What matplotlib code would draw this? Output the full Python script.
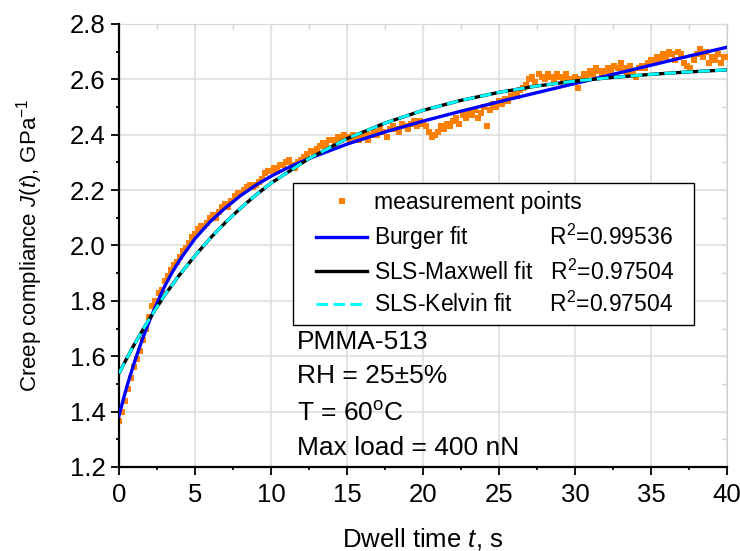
import numpy as np
import matplotlib.pyplot as plt
from matplotlib.patches import Rectangle
from matplotlib.ticker import MultipleLocator, FormatStrFormatter

plt.rcParams['font.family'] = ['Liberation Sans', 'DejaVu Sans']
plt.rcParams['mathtext.fontset'] = 'custom'
plt.rcParams['mathtext.rm'] = 'Liberation Sans'
plt.rcParams['mathtext.it'] = 'Liberation Sans:italic'

# measurement points, one every 0.2 s (5 per row = 1 s)
meas_J = [
    1.365, 1.40, 1.44, 1.48, 1.52,
    1.56, 1.59, 1.62, 1.66, 1.70,
    1.74, 1.78, 1.80, 1.83, 1.84,
    1.87, 1.89, 1.91, 1.93, 1.94,
    1.96, 1.98, 1.99, 2.01, 2.03,
    2.04, 2.06, 2.07, 2.07, 2.08,
    2.10, 2.11, 2.10, 2.12, 2.14,
    2.15, 2.14, 2.16, 2.18, 2.19,
    2.19, 2.20, 2.21, 2.22, 2.21,
    2.22, 2.23, 2.24, 2.26, 2.27,
    2.27, 2.28, 2.27, 2.29, 2.29,
    2.30, 2.31, 2.29, 2.28, 2.30,
    2.31, 2.32, 2.33, 2.34, 2.33,
    2.35, 2.36, 2.37, 2.36, 2.38,
    2.38, 2.37, 2.39, 2.38, 2.40,
    2.39, 2.38, 2.40, 2.39, 2.38,
    2.39, 2.40, 2.38, 2.40, 2.41,
    2.40, 2.42, 2.41, 2.39, 2.42,
    2.43, 2.42, 2.41, 2.44, 2.43,
    2.42, 2.44, 2.45, 2.43, 2.45,
    2.44, 2.43, 2.41, 2.39, 2.40,
    2.41, 2.43, 2.42, 2.44, 2.43,
    2.45, 2.46, 2.44, 2.47, 2.46,
    2.48, 2.47, 2.49, 2.46, 2.48,
    2.50, 2.43, 2.49, 2.51, 2.50,
    2.52, 2.51, 2.53, 2.52, 2.54,
    2.55, 2.54, 2.56, 2.57, 2.58,
    2.60, 2.61, 2.59, 2.62, 2.61,
    2.60, 2.62, 2.61, 2.60, 2.62,
    2.61, 2.60, 2.62, 2.60, 2.59,
    2.61, 2.57, 2.60, 2.62, 2.61,
    2.63, 2.62, 2.64, 2.63, 2.61,
    2.63, 2.64, 2.63, 2.65, 2.64,
    2.66, 2.64, 2.62, 2.65, 2.63,
    2.61, 2.64, 2.65, 2.64, 2.66,
    2.67, 2.66, 2.68, 2.67, 2.69,
    2.68, 2.70, 2.69, 2.67, 2.70,
    2.69, 2.66, 2.65, 2.64, 2.67,
    2.69, 2.71, 2.68, 2.70, 2.66,
    2.68, 2.67, 2.69, 2.66, 2.68,
    2.68]
meas_t = np.arange(len(meas_J)) * 0.2

# fitted curves
burger_t = [0, 0.25, 0.5, 0.75, 1, 1.5, 2, 2.5, 3, 3.5, 4, 5, 6, 7, 8, 9, 10, 11,
            12.5, 15, 17.5, 20, 22.5, 25, 27.5, 30, 32.5, 35, 37.5, 40]
burger_J = [1.385, 1.437, 1.487, 1.532, 1.576, 1.656, 1.728, 1.792, 1.852, 1.903,
            1.948, 2.025, 2.086, 2.136, 2.180, 2.218, 2.250, 2.278, 2.314, 2.366,
            2.410, 2.449, 2.485, 2.519, 2.552, 2.585, 2.618, 2.651, 2.684, 2.716]

sls_t = [0, 0.5, 1, 1.5, 2, 3, 4, 5, 6, 7, 8, 9, 10, 12.5, 15, 17.5, 20, 22.5,
         25, 27.5, 30, 32.5, 35, 37.5, 40]
maxwell_J = [1.538, 1.591, 1.642, 1.689, 1.735, 1.820, 1.895, 1.963, 2.026, 2.083,
             2.135, 2.182, 2.225, 2.314, 2.386, 2.442, 2.488, 2.524, 2.553, 2.576,
             2.594, 2.607, 2.618, 2.627, 2.634]
kelvin_J = maxwell_J  # both SLS fits give the same curve

labels = ['measurement points',
          'Burger fit' + ' ' * 13 + 'R$^2$=0.99536',
          'SLS-Maxwell fit' + ' ' * 3 + 'R$^2$=0.97504',
          'SLS-Kelvin fit' + ' ' * 6 + 'R$^2$=0.97504']
notes = ['PMMA-513', 'RH = 25\u00b15%', 'T = 60$^{\\rm o}$C', 'Max load = 400 nN']
notes_y = [1.626, 1.503, 1.366, 1.243]

fig = plt.figure(figsize=(7.4, 5.51), dpi=100)
ax = fig.add_axes([0.1608, 0.1525, 0.8216, 0.804])

ax.grid(True, color='#dcdcdc', lw=1.1, zorder=0)
ax.set_axisbelow(True)

h0, = ax.plot(meas_t, meas_J, 's', color='#ff8000', ms=5, mew=0, zorder=2)
h1, = ax.plot(burger_t, burger_J, '-', color='#0000ff', lw=2.4, zorder=3)
h2, = ax.plot(sls_t, maxwell_J, '-', color='black', lw=2.4, zorder=3)
h3, = ax.plot(sls_t, kelvin_J, '--', color='#00ffff', lw=2.1, dashes=(4, 1.8), zorder=4)

ax.set_xlim(0, 40)
ax.set_ylim(1.2, 2.8)
ax.xaxis.set_major_locator(MultipleLocator(5))
ax.xaxis.set_minor_locator(MultipleLocator(2.5))
ax.yaxis.set_major_locator(MultipleLocator(0.2))
ax.yaxis.set_minor_locator(MultipleLocator(0.1))
ax.yaxis.set_major_formatter(FormatStrFormatter('%.1f'))

for s in ['left', 'bottom']:
    ax.spines[s].set_linewidth(1.6)
for s in ['top', 'right']:
    ax.spines[s].set_visible(False)
ax.tick_params(which='major', direction='out', length=5.5, width=1.3, labelsize=18.5)
ax.tick_params(axis='y', which='major', pad=4)
ax.tick_params(axis='x', which='major', pad=6)
ax.tick_params(which='minor', direction='out', length=2.5, width=1.3)

# grey frame with inward ticks on top and right
top = ax.secondary_xaxis('top')
top.set_xticks(np.arange(0, 40.1, 2.5))
top.tick_params(direction='in', length=3.5, width=1, color='#d0d0d0', labeltop=False)
top.spines['top'].set_color('#d0d0d0')
right = ax.secondary_yaxis('right')
right.set_yticks(np.arange(1.2, 2.81, 0.1))
right.tick_params(direction='in', length=3.5, width=1, color='#d0d0d0', labelright=False)
right.spines['right'].set_color('#d0d0d0')

ax.set_xlabel('Dwell time $t$, s', fontsize=18.5, labelpad=14)
ax.set_ylabel('Creep compliance $J(t)$, GPa$^{-1}$', fontsize=16, labelpad=18)

for y, s in zip(notes_y, notes):
    ax.text(11.71, y, s, fontsize=19, va='baseline', ha='left')

leg = ax.legend([h0, h1, h2, h3], labels, loc='upper left',
                bbox_to_anchor=(0.306, 0.648), frameon=False, fontsize=16.5,
                borderpad=0, handlelength=2.2, handletextpad=0.3,
                labelspacing=0.32, numpoints=1, markerscale=1.0)
leg.set_zorder(6)

fig.canvas.draw()
bb = leg.get_window_extent()
(x0, y0), (x1, y1) = ax.transAxes.inverted().transform([[bb.x0 - 23, bb.y0 - 8],
                                                        [bb.x1 + 20, bb.y1 + 8]])
ax.add_patch(Rectangle((x0, y0), x1 - x0, y1 - y0, transform=ax.transAxes,
                       facecolor='white', edgecolor='black', lw=1.0,
                       zorder=5, clip_on=False))

fig.savefig('out.png', dpi=100)
